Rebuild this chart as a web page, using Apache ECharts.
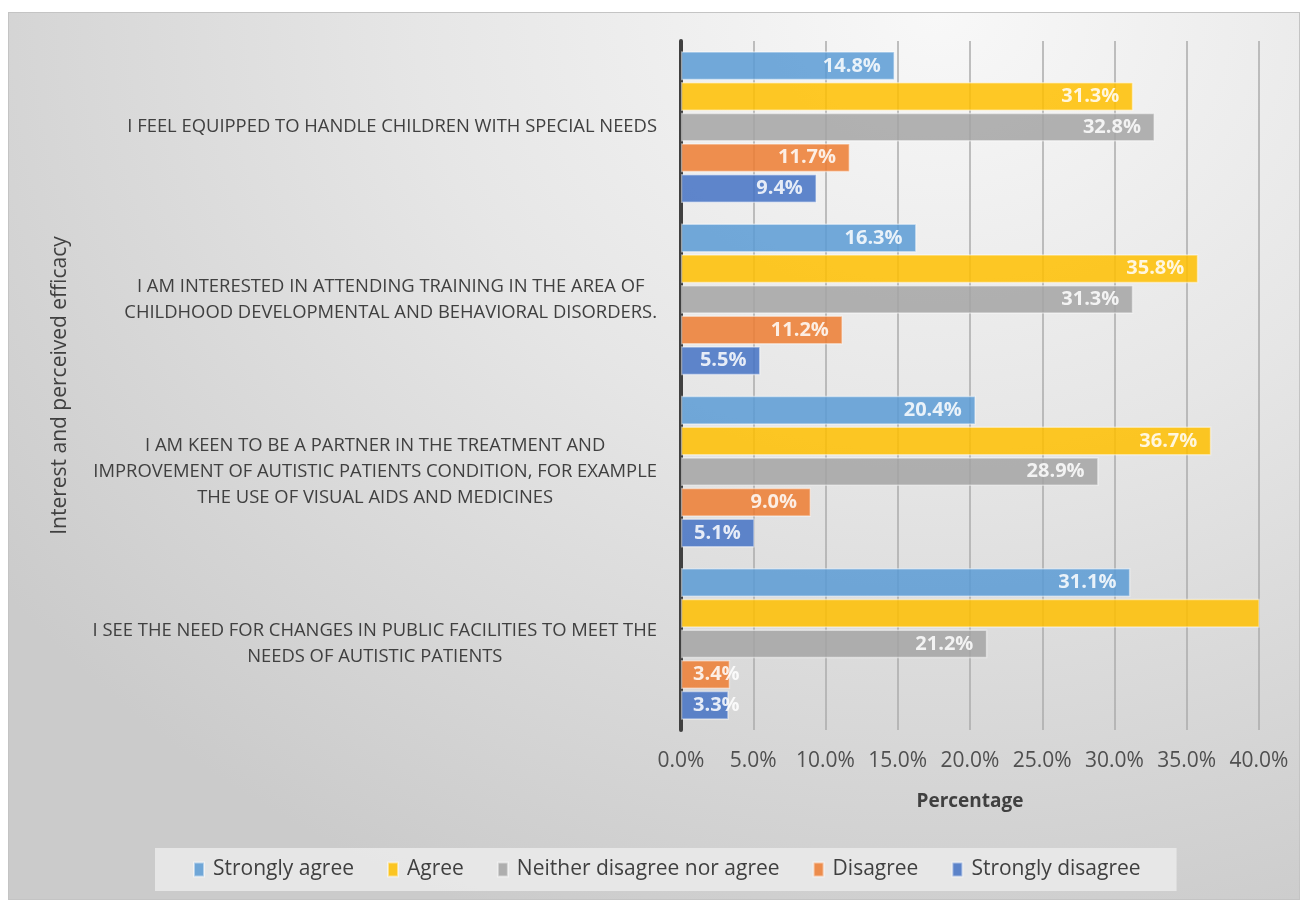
<!DOCTYPE html>
<html>
<head>
<meta charset="utf-8">
<script src="https://cdn.jsdelivr.net/npm/echarts@6/dist/echarts.min.js"></script>
<style>
  html, body { margin: 0; padding: 0; background: #fff; }
  #wrap { position: relative; width: 1305px; height: 903px; }
  #frame {
    position: absolute; left: 8px; top: 12px; width: 1290px; height: 886px;
    border: 1px solid #c4c4c4;
    background: radial-gradient(ellipse 90% 110% at 72% 0%, #f8f8f8 0%, #e6e6e6 45%, #cbcbcb 100%);
  }
  #chart { position: absolute; left: 0; top: 0; width: 1305px; height: 903px; }
</style>
</head>
<body>
<div id="wrap">
  <div id="frame"></div>
  <div id="chart"></div>
</div>
<script>
// categories (top to bottom)
const categories = [
  "I FEEL EQUIPPED TO HANDLE CHILDREN WITH SPECIAL NEEDS",
  "I AM INTERESTED IN ATTENDING TRAINING IN THE AREA OF\nCHILDHOOD DEVELOPMENTAL AND BEHAVIORAL DISORDERS.",
  "I AM KEEN TO BE A PARTNER IN THE TREATMENT AND\nIMPROVEMENT OF AUTISTIC PATIENTS CONDITION, FOR EXAMPLE\nTHE USE OF VISUAL AIDS AND MEDICINES",
  "I SEE THE NEED FOR CHANGES IN PUBLIC FACILITIES TO MEET THE\nNEEDS OF AUTISTIC PATIENTS"
];

const seriesNames = ["Strongly agree", "Agree", "Neither disagree nor agree", "Disagree", "Strongly disagree"];

const stronglyAgree = [14.8, 16.3, 20.4, 31.1];
const agree = [31.3, 35.8, 36.7, 41.0];
const neither = [32.8, 31.3, 28.9, 21.2];
const disagree = [11.7, 11.2, 9.0, 3.4];
const stronglyDisagree = [9.4, 5.5, 5.1, 3.3];

const colors = ["#5B9BD5", "#FFC000", "#A5A5A5", "#ED7D31", "#4472C4"];
const xMax = 40;

const font = "'Open Sans', 'Noto Sans', sans-serif";

// labels: hidden when the bar runs past the axis, pushed to the base when the bar is too short
function makeData(values) {
  return values.map(v => {
    if (v > xMax) return { value: v, label: { show: false } };
    if (v < 4) return { value: v, label: { position: "insideLeft", distance: 12 } };
    return v;
  });
}

const allValues = [stronglyAgree, agree, neither, disagree, stronglyDisagree];

const myChart = echarts.init(document.getElementById("chart"));

myChart.setOption({
  backgroundColor: "transparent",
  textStyle: { fontFamily: font },
  grid: { left: 681, right: 46, top: 41, bottom: 173 },
  legend: {
    bottom: 12,
    left: 155,
    data: seriesNames,
    icon: "rect",
    itemWidth: 10,
    itemHeight: 14,
    itemGap: 33,
    padding: [11, 36, 11, 38],
    backgroundColor: "rgba(235,235,235,0.85)",
    textStyle: { fontSize: 21, color: "#404040", fontFamily: font, padding: [0, 0, 0, 4] }
  },
  xAxis: {
    type: "value",
    min: 0,
    max: xMax,
    interval: 5,
    name: "Percentage",
    nameLocation: "middle",
    nameGap: 62,
    nameTextStyle: { fontSize: 19, fontWeight: "bold", color: "#404040" },
    axisLine: { show: false },
    axisTick: { show: false },
    axisLabel: {
      fontSize: 21,
      color: "#505050",
      margin: 21,
      formatter: v => v.toFixed(1) + "%"
    },
    splitLine: { lineStyle: { color: "#ababab", width: 1.5 } }
  },
  yAxis: {
    type: "category",
    inverse: true,
    data: categories,
    name: "Interest and perceived efficacy",
    nameLocation: "middle",
    nameGap: 610,
    nameTextStyle: { fontSize: 21, color: "#404040" },
    axisLine: { show: true, lineStyle: { color: "#404040", width: 4 } },
    axisTick: { show: false },
    axisLabel: {
      margin: 24,
      fontSize: 18,
      color: "#404040",
      lineHeight: 26,
      formatter: v => v.split("\n").map(l => "{c|" + l + "}").join("\n"),
      rich: { c: { align: "center", fontSize: 18.4, color: "#404040", lineHeight: 26 } }
    }
  },
  series: seriesNames.map((name, i) => ({
    name: name,
    type: "bar",
    z: 3,
    barCategoryGap: "12%",
    barGap: "6%",
    data: makeData(allValues[i]),
    itemStyle: {
      color: colors[i],
      opacity: 0.85,
      borderColor: "rgba(255,255,255,0.55)",
      borderWidth: 1.5
    },
    label: {
      show: true,
      position: "insideRight",
      distance: 14,
      color: "#fff",
      fontSize: 20,
      fontWeight: "bold",
      formatter: p => p.value.toFixed(1) + "%"
    }
  }))
});

window.addEventListener("resize", () => myChart.resize());
</script>
</body>
</html>
